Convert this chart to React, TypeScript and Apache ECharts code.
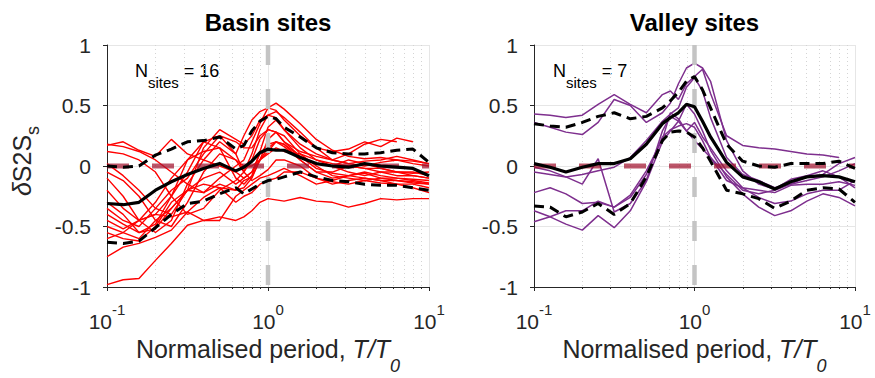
import React, { useEffect, useRef } from "react";
import * as echarts from "echarts";

// Normalised periods T/T0 at which the curves were read
const PERIODS = [0.1, 0.126, 0.158, 0.2, 0.251, 0.316, 0.398, 0.501, 0.631, 0.708, 0.794, 0.891, 1, 1.122, 1.259, 1.585, 1.995, 2.512, 3.162, 3.981, 5.012, 6.31, 7.943, 10];

// Basin sites (16 sites)
const BASIN_SITES: (number | null)[][] = [
  [-0.98, -0.94, -0.93, -0.78, -0.64, -0.49, -0.45, -0.42, -0.45, -0.42, -0.37, -0.3, -0.27, -0.28, -0.29, -0.26, -0.29, -0.3, -0.34, -0.31, -0.27, -0.28, -0.27, -0.27],
  [-0.75, -0.67, -0.64, -0.59, -0.53, -0.38, -0.26, -0.18, -0.2, -0.12, -0.09, 0.05, 0.12, 0.2, 0.18, 0.08, -0.02, -0.06, -0.08, -0.06, -0.1, -0.12, -0.13, -0.15],
  [0.18, 0.16, 0.12, 0.05, -0.05, -0.15, -0.22, -0.1, 0.0, 0.05, 0.2, 0.35, 0.48, 0.52, 0.47, 0.35, 0.22, 0.13, 0.08, 0.06, 0.07, 0.05, 0.02, 0.0],
  [0.17, 0.2, 0.13, 0.08, 0.22, 0.1, 0.05, 0.2, 0.1, 0.25, 0.38, 0.45, 0.48, 0.46, 0.38, 0.25, 0.15, 0.12, 0.14, 0.2, 0.16, 0.23, 0.2, null],
  [0.12, 0.1, 0.05, -0.05, -0.25, -0.4, -0.35, -0.2, -0.12, -0.05, 0.1, 0.3, 0.42, 0.45, 0.4, 0.28, 0.15, 0.05, 0.02, 0.04, 0.05, 0.08, 0.05, 0.02],
  [0.02, -0.08, -0.2, -0.35, -0.4, -0.2, 0.15, 0.3, 0.22, 0.18, 0.25, 0.38, 0.42, 0.4, 0.3, 0.18, 0.1, 0.05, 0.1, 0.18, 0.22, 0.2, null, null],
  [-0.05, -0.12, -0.25, -0.45, -0.5, -0.3, -0.05, 0.1, 0.05, -0.05, 0.05, 0.22, 0.3, 0.28, 0.2, 0.08, 0.02, 0.0, 0.05, 0.02, -0.02, -0.05, -0.06, -0.05],
  [-0.1, -0.25, -0.45, -0.55, -0.45, -0.15, 0.05, 0.0, -0.05, -0.1, -0.05, 0.1, 0.18, 0.2, 0.16, 0.05, -0.05, -0.1, -0.08, -0.05, -0.08, -0.1, -0.11, -0.12],
  [-0.2, -0.35, -0.45, -0.4, -0.25, -0.05, 0.2, 0.15, 0.05, 0.0, 0.0, 0.05, 0.1, 0.15, 0.12, 0.1, 0.05, 0.02, 0.0, -0.02, -0.02, -0.05, -0.05, -0.08],
  [-0.3, -0.4, -0.55, -0.52, -0.35, -0.2, -0.1, -0.05, -0.15, -0.1, -0.05, 0.05, 0.22, 0.28, 0.25, 0.1, 0.0, -0.08, -0.1, -0.12, -0.1, -0.1, -0.12, -0.14],
  [-0.35, -0.45, -0.5, -0.35, -0.2, -0.1, 0.1, 0.25, 0.2, 0.15, 0.15, 0.25, 0.3, 0.28, 0.2, 0.12, 0.08, 0.05, 0.02, 0.0, 0.03, 0.05, 0.04, 0.02],
  [-0.4, -0.48, -0.55, -0.48, -0.25, 0.05, 0.2, 0.25, 0.1, -0.05, -0.12, -0.08, -0.03, 0.05, 0.05, 0.0, -0.1, -0.15, -0.12, -0.1, -0.12, -0.15, -0.15, -0.18],
  [-0.45, -0.52, -0.45, -0.3, -0.1, 0.05, 0.12, 0.15, -0.1, -0.15, -0.08, 0.12, 0.32, 0.38, 0.3, 0.15, 0.05, 0.0, -0.05, -0.08, -0.05, -0.05, -0.08, -0.1],
  [-0.5, -0.55, -0.6, -0.45, -0.35, -0.2, -0.15, -0.18, -0.3, -0.25, -0.22, -0.15, -0.12, -0.1, -0.05, -0.05, -0.1, -0.13, -0.15, -0.12, -0.14, -0.15, -0.18, -0.22],
  [-0.55, -0.6, -0.62, -0.5, -0.3, -0.2, -0.22, -0.15, -0.2, -0.18, -0.1, 0.05, 0.15, 0.2, 0.18, 0.05, -0.05, -0.05, 0.0, -0.02, -0.05, -0.08, -0.08, -0.1],
  [-0.6, -0.55, -0.45, -0.4, -0.42, -0.38, -0.45, -0.45, -0.25, -0.2, -0.15, -0.1, -0.08, -0.05, -0.02, -0.08, -0.15, -0.12, -0.08, -0.1, -0.12, -0.12, -0.14, -0.15],
];
const BASIN_MEAN = [-0.31, -0.32, -0.3, -0.2, -0.13, -0.07, -0.02, 0.02, -0.04, -0.01, 0.04, 0.11, 0.14, 0.13, 0.13, 0.07, 0.02, 0.0, -0.01, 0.02, 0.0, -0.01, -0.02, -0.08];
const BASIN_UPPER = [0.0, -0.01, 0.0, 0.09, 0.14, 0.2, 0.21, 0.24, 0.14, 0.17, 0.29, 0.37, 0.41, 0.39, 0.32, 0.24, 0.15, 0.11, 0.1, 0.1, 0.11, 0.13, 0.14, 0.03];
const BASIN_LOWER = [-0.63, -0.64, -0.62, -0.51, -0.4, -0.31, -0.29, -0.23, -0.18, -0.23, -0.19, -0.15, -0.12, -0.11, -0.09, -0.05, -0.09, -0.12, -0.13, -0.15, -0.16, -0.16, -0.18, -0.2];

// Valley sites (7 sites)
const VALLEY_SITES: (number | null)[][] = [
  [0.43, 0.42, 0.4, 0.42, 0.51, 0.59, 0.51, 0.44, 0.59, 0.62, 0.55, 0.68, 0.74, 0.8, 0.6, 0.25, 0.17, 0.15, 0.14, 0.12, 0.1, 0.09, 0.07, null],
  [0.36, 0.32, 0.28, 0.26, 0.36, 0.55, 0.5, 0.36, 0.44, 0.52, 0.68, 0.81, 0.85, 0.81, 0.7, 0.21, -0.04, -0.15, -0.19, -0.11, -0.08, -0.04, -0.09, -0.18],
  [-0.01, -0.04, -0.09, -0.15, 0.06, -0.38, -0.31, -0.12, 0.29, 0.41, 0.37, 0.29, 0.21, 0.14, 0.07, -0.07, -0.2, -0.23, -0.2, -0.15, -0.09, -0.07, 0.02, 0.07],
  [-0.22, -0.18, -0.23, -0.31, -0.3, -0.34, -0.24, -0.04, 0.22, 0.44, 0.39, 0.29, 0.36, 0.24, 0.15, -0.04, -0.18, -0.26, -0.31, -0.29, -0.23, -0.2, -0.2, -0.12],
  [-0.46, -0.42, -0.48, -0.53, -0.41, -0.51, -0.37, -0.13, 0.2, 0.29, 0.37, 0.51, 0.43, 0.29, 0.13, -0.09, -0.23, -0.34, -0.41, -0.37, -0.29, -0.23, -0.26, -0.33],
  [-0.05, -0.07, -0.09, -0.07, -0.04, -0.01, 0.07, 0.21, 0.37, 0.43, 0.48, 0.65, 0.73, 0.62, 0.4, 0.07, -0.07, -0.12, -0.18, -0.15, -0.12, -0.09, -0.04, 0.02],
  [-0.37, -0.42, -0.37, -0.37, -0.29, -0.34, -0.26, -0.07, 0.24, 0.3, 0.33, 0.35, 0.32, 0.21, 0.07, -0.12, -0.18, -0.2, -0.22, -0.16, -0.15, -0.15, -0.13, -0.16],
];
const VALLEY_MEAN = [0.02, -0.01, -0.05, -0.01, 0.02, 0.02, 0.06, 0.18, 0.35, 0.4, 0.44, 0.51, 0.49, 0.37, 0.24, 0.03, -0.09, -0.13, -0.19, -0.13, -0.09, -0.08, -0.09, -0.13];
const VALLEY_UPPER = [0.35, 0.33, 0.32, 0.36, 0.41, 0.44, 0.39, 0.41, 0.48, 0.54, 0.61, 0.7, 0.74, 0.63, 0.48, 0.18, 0.04, 0.0, -0.01, 0.02, 0.02, 0.02, 0.04, -0.02];
const VALLEY_LOWER = [-0.33, -0.34, -0.42, -0.38, -0.31, -0.4, -0.31, -0.09, 0.21, 0.28, 0.29, 0.28, 0.24, 0.15, 0.04, -0.2, -0.23, -0.27, -0.35, -0.29, -0.2, -0.18, -0.19, -0.3];

const TITLES = ["Basin sites", "Valley sites"];
const N_SITES = [16, 7];
const X_RANGE = [0.1, 10];
const Y_RANGE = [-1, 1];
const Y_STEP = 0.5;
const REF_PERIOD = 1; // T = T0
const REF_LEVEL = 0;

const FONT = "'Liberation Sans', Arial, Helvetica, sans-serif";
const INK = "#262626";

function toPairs(values: (number | null)[]) {
  return PERIODS.map((t, k) => [t, values[k]]).filter((p) => p[1] !== null && p[1] !== undefined);
}

export default function App() {
  const ref = useRef<HTMLDivElement>(null);

  useEffect(() => {
    const chart = echarts.init(ref.current!, undefined, { renderer: "svg" });

    const panels = [
      { sites: BASIN_SITES, mean: BASIN_MEAN, upper: BASIN_UPPER, lower: BASIN_LOWER, color: "#ff0000", width: 1.4 },
      { sites: VALLEY_SITES, mean: VALLEY_MEAN, upper: VALLEY_UPPER, lower: VALLEY_LOWER, color: "#7e2f8e", width: 1.5 },
    ];
    const grids = [
      { left: 107, top: 45, width: 322, height: 242 },
      { left: 534, top: 45, width: 321, height: 242 },
    ];

    const xAxes = grids.map((_, i) => ({
      type: "log",
      logBase: 10,
      gridIndex: i,
      min: X_RANGE[0],
      max: X_RANGE[1],
      axisLine: { show: true, onZero: false, lineStyle: { color: INK, width: 1 } },
      axisTick: { show: true, inside: false, length: 4, lineStyle: { color: INK } },
      minorTick: { show: true, splitNumber: 9, length: 2, lineStyle: { color: INK } },
      splitLine: { show: true, lineStyle: { color: "#e6e6e6", width: 1 } },
      minorSplitLine: { show: true, lineStyle: { color: "#d4d4d4", width: 1, type: [1, 3] } },
      axisLabel: {
        margin: 15,
        formatter: (v: number) => `{b|10}{s|${Math.round(Math.log10(v))}}`,
        rich: {
          b: { fontFamily: FONT, fontSize: 21, color: INK, lineHeight: 30, verticalAlign: "bottom" },
          s: { fontFamily: FONT, fontSize: 15, color: INK, verticalAlign: "top" },
        },
      },
      name: "{n|Normalised period, }{i|T/T}{sub|0}",
      nameLocation: "middle",
      nameGap: 47,
      nameTextStyle: {
        rich: {
          n: { fontFamily: FONT, fontSize: 25, color: INK, verticalAlign: "top" },
          i: { fontFamily: FONT, fontSize: 25, fontStyle: "italic", color: INK, verticalAlign: "top" },
          sub: { fontFamily: FONT, fontSize: 18, fontStyle: "italic", color: INK, lineHeight: 38, verticalAlign: "bottom" },
        },
      },
    }));

    const yAxes = grids.map((_, i) => ({
      type: "value",
      gridIndex: i,
      min: Y_RANGE[0],
      max: Y_RANGE[1],
      interval: Y_STEP,
      axisLine: { show: true, onZero: false, lineStyle: { color: INK, width: 1 } },
      axisTick: { show: true, inside: false, length: 4, lineStyle: { color: INK } },
      splitLine: { show: true, lineStyle: { color: "#e6e6e6", width: 1 } },
      axisLabel: { margin: 16, fontFamily: FONT, fontSize: 21, color: INK },
    }));

    const series: any[] = [];
    panels.forEach((p, i) => {
      const base = { type: "line", xAxisIndex: i, yAxisIndex: i, symbol: "none", silent: true, clip: true };
      p.sites.forEach((s) => {
        series.push({ ...base, data: toPairs(s), lineStyle: { color: p.color, width: p.width } });
      });
      series.push({
        ...base,
        data: [[X_RANGE[0], REF_LEVEL], [X_RANGE[1], REF_LEVEL]],
        lineStyle: { color: "#a2142f", width: 5, opacity: 0.72, type: [22, 23] },
      });
      series.push({
        ...base,
        data: [[REF_PERIOD, Y_RANGE[1]], [REF_PERIOD, Y_RANGE[0]]],
        lineStyle: { color: "#c4c4c4", width: 4.5, type: [20, 24] },
      });
      [p.upper, p.lower].forEach((d) => {
        series.push({ ...base, data: toPairs(d), lineStyle: { color: "#000", width: 3, type: [10, 6] } });
      });
      series.push({ ...base, data: toPairs(p.mean), lineStyle: { color: "#000", width: 3.2 } });
    });

    const graphic: any[] = [];
    grids.forEach((g, i) => {
      graphic.push({
        type: "text",
        x: g.left + g.width / 2,
        y: 22.5,
        style: {
          text: TITLES[i],
          fontFamily: FONT,
          fontSize: 24,
          fontWeight: "bold",
          fill: "#000",
          align: "center",
          verticalAlign: "middle",
        },
      });
      graphic.push({
        type: "text",
        x: g.left + (i === 0 ? 28 : 19),
        y: 62,
        style: {
          text: `{n|N}{sub|sites}{n| = ${N_SITES[i]}}`,
          align: "left",
          verticalAlign: "top",
          rich: {
            n: { fontFamily: FONT, fontSize: 18, fill: "#000", verticalAlign: "top" },
            sub: { fontFamily: FONT, fontSize: 15, fill: "#000", lineHeight: 28, verticalAlign: "bottom" },
          },
        },
      });
    });
    graphic.push({
      type: "text",
      x: 9,
      y: 161,
      rotation: Math.PI / 2,
      style: {
        text: "{d|δ}{m|S2S}{s|s}",
        align: "center",
        verticalAlign: "top",
        rich: {
          d: { fontFamily: FONT, fontSize: 25, fontStyle: "italic", fill: INK, verticalAlign: "top" },
          m: { fontFamily: FONT, fontSize: 25, fill: INK, verticalAlign: "top" },
          s: { fontFamily: FONT, fontSize: 18, fill: INK, lineHeight: 33, verticalAlign: "bottom" },
        },
      },
    });

    chart.setOption({
      animation: false,
      backgroundColor: "#ffffff",
      grid: grids.map((g) => ({ ...g, containLabel: false, outerBoundsMode: "none" })),
      xAxis: xAxes,
      yAxis: yAxes,
      series,
      graphic,
    });

    return () => chart.dispose();
  }, []);

  return (
    <div
      ref={ref}
      style={{ position: "fixed", left: 0, top: 0, width: 875, height: 378, background: "#fff" }}
    />
  );
}
